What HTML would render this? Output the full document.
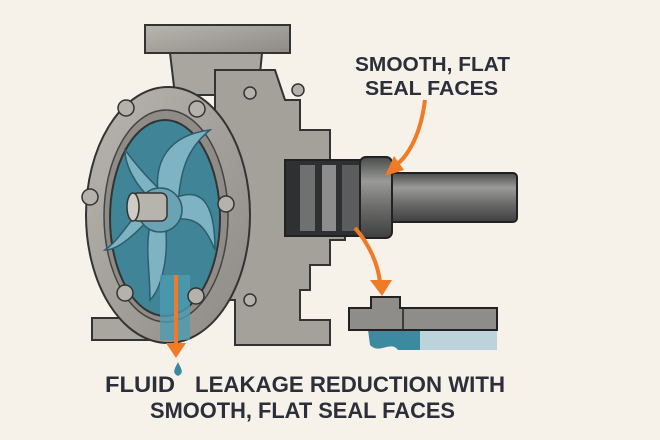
<!DOCTYPE html>
<html><head><style>
html,body{margin:0;padding:0;background:#f6f2ea;}
svg{display:block}
text{font-family:"Liberation Sans",sans-serif;font-weight:bold;fill:#2b2f3a;white-space:pre}
</style></head><body>
<svg width="660" height="440" viewBox="0 0 660 440" xmlns="http://www.w3.org/2000/svg">
<defs>
<linearGradient id="sh" x1="0" y1="0" x2="0" y2="1">
<stop offset="0" stop-color="#4a4b4c"/><stop offset="0.3" stop-color="#9a9a98"/><stop offset="0.6" stop-color="#6e6e6c"/><stop offset="1" stop-color="#3e3f40"/></linearGradient>
<linearGradient id="met" x1="0" y1="0" x2="1" y2="1">
<stop offset="0" stop-color="#b9b6b0"/><stop offset="1" stop-color="#8d8a85"/></linearGradient>
</defs>
<rect width="660" height="440" fill="#f6f2ea"/>
<rect x="145" y="25" width="145" height="28" fill="url(#met)" stroke="#333" stroke-width="2"/>
<path d="M170 53 L262 53 L258 95 L175 95 Z" fill="#a9a6a0" stroke="#333" stroke-width="2"/>
<path d="M215 70 L275 70 L285 100 L300 100 L300 130 L330 130 L330 160 L345 160 L345 240 L330 240 L330 265 L310 265 L310 290 L300 290 L300 320 L330 320 L330 345 L235 345 L235 300 L215 300 Z" fill="#a4a19b" stroke="#333" stroke-width="2"/>
<rect x="285" y="160" width="85" height="76" fill="#2e3032" stroke="#222" stroke-width="2"/>
<rect x="300" y="165" width="15" height="66" fill="#6f7070"/>
<rect x="322" y="165" width="14" height="66" fill="#8c8d8c"/>
<rect x="342" y="165" width="18" height="66" fill="#5b5c5d"/>
<rect x="385" y="173" width="132" height="49" rx="4" fill="url(#sh)" stroke="#222" stroke-width="2"/>
<rect x="360" y="157" width="32" height="81" rx="6" fill="url(#sh)" stroke="#222" stroke-width="2"/>
<path d="M92 318 L175 318 L180 340 L92 340 Z" fill="#a9a6a0" stroke="#333" stroke-width="2"/>
<ellipse cx="168" cy="215" rx="82" ry="128" fill="url(#met)" stroke="#333" stroke-width="2"/>
<ellipse cx="166" cy="216" rx="62" ry="106" fill="#8f8c87" stroke="#444" stroke-width="1.5"/>
<ellipse cx="165" cy="218" rx="55" ry="98" fill="#3f8597" stroke="#333" stroke-width="2"/>
<g fill="#7db3c2" stroke="#2d5d6a" stroke-width="1.5">
<path d="M160 205 C150 160 170 135 210 130 C185 150 180 175 178 205 Z"/>
<path d="M170 200 C200 185 215 200 215 250 C205 225 195 215 170 220 Z"/>
<path d="M165 222 C170 260 160 290 150 300 C150 270 145 250 150 225 Z"/>
<path d="M150 218 C130 240 115 250 105 250 C125 235 130 215 150 205 Z"/>
<path d="M152 200 C135 185 125 165 125 150 C140 170 150 180 165 195 Z"/>
</g>
<circle cx="160" cy="210" r="22" fill="#6aa3b3" stroke="#2d5d6a" stroke-width="1.5"/>
<rect x="132" y="193" width="35" height="28" rx="6" fill="#b7b4ae" stroke="#333" stroke-width="1.5"/>
<ellipse cx="133" cy="207" rx="6" ry="14" fill="#cfccc6" stroke="#333" stroke-width="1.5"/>
<path d="M160 275 L190 275 L190 340 L160 340 Z" fill="#4d9bb0" opacity="0.8"/>
<g fill="#b5b2ac" stroke="#333" stroke-width="1.5">
<circle cx="126" cy="108" r="8"/><circle cx="197" cy="109" r="8"/><circle cx="90" cy="197" r="8"/><circle cx="226" cy="204" r="8"/><circle cx="125" cy="293" r="8"/><circle cx="196" cy="296" r="8"/><circle cx="250" cy="93" r="6"/><circle cx="298" cy="90" r="6"/><circle cx="250" cy="300" r="6"/>
</g>
<path d="M368 330 L420 330 L420 350 L398 350 C390 340 380 355 370 345 Z" fill="#3b8aa0"/>
<rect x="420" y="330" width="77" height="20" fill="#bcd3dc"/>
<path d="M349 308 L371 308 L371 297 L400 297 L400 308 L497 308 L497 330 L349 330 Z" fill="#8f8d89" stroke="#222" stroke-width="2"/>
<line x1="403" y1="308" x2="403" y2="330" stroke="#222" stroke-width="1.5"/>
<g stroke="#f07a26" stroke-width="4" fill="none">
<path d="M425 100 C420 140 405 160 392 168"/>
<path d="M355 228 C370 245 378 265 380 282"/>
<line x1="176" y1="275" x2="176" y2="345"/>
</g>
<g fill="#f07a26">
<polygon points="385,176 394,156 404,170"/>
<polygon points="370,280 392,280 382,296"/>
<polygon points="166,343 186,343 176,358"/>
</g>
<path d="M178 362 C182 370 184 373 178 376 C172 373 174 370 178 362 Z" fill="#3b8aa0"/>
<text x="355" y="71" font-size="20" textLength="155" lengthAdjust="spacingAndGlyphs">SMOOTH, FLAT</text>
<text x="365" y="95" font-size="20" textLength="133" lengthAdjust="spacingAndGlyphs">SEAL FACES</text>
<text x="105" y="392" font-size="22" textLength="70" lengthAdjust="spacingAndGlyphs">FLUID</text>
<text x="195" y="392" font-size="22" textLength="310" lengthAdjust="spacingAndGlyphs">LEAKAGE REDUCTION WITH</text>
<text x="150" y="418" font-size="22" textLength="305" lengthAdjust="spacingAndGlyphs">SMOOTH, FLAT SEAL FACES</text>
</svg>
</body></html>
